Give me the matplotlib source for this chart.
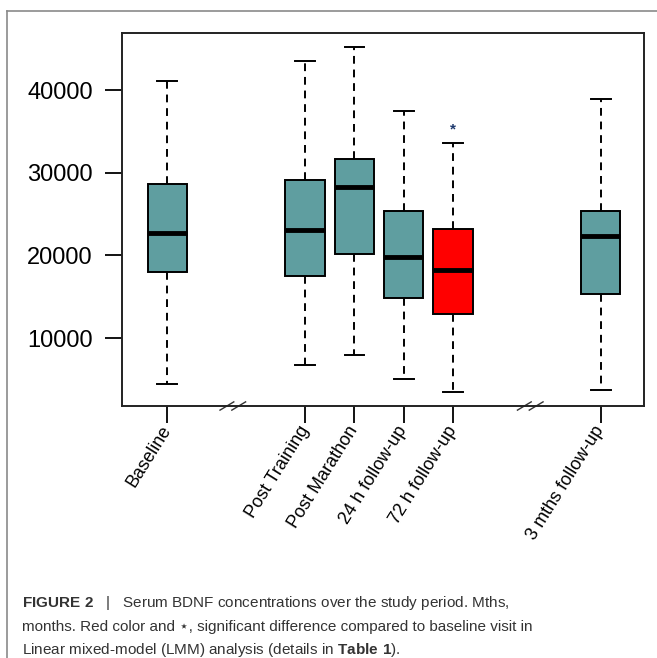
import matplotlib.pyplot as plt
from matplotlib.lines import Line2D

plt.rcParams['font.family'] = ['Liberation Sans', 'DejaVu Sans']
plt.rcParams['mathtext.fontset'] = 'custom'
plt.rcParams['mathtext.bf'] = 'Liberation Sans:bold'
plt.rcParams['mathtext.rm'] = 'Liberation Sans'

labels = ["Baseline", "Post Training", "Post Marathon", "24 h follow-up",
          "72 h follow-up", "3 mths follow-up"]
positions = [1, 3.8, 4.8, 5.8, 6.8, 9.8]
whis_lo = [4450, 6740, 7980, 5120, 3510, 3710]
q1 = [18060, 17460, 20200, 14840, 12980, 15360]
med = [22740, 23100, 28310, 19840, 18230, 22380]
q3 = [28630, 29150, 31690, 25370, 23230, 25400]
whis_hi = [41050, 43550, 45160, 37460, 33630, 38870]
colors = ["#5F9EA0", "#5F9EA0", "#5F9EA0", "#5F9EA0", "#FF0000", "#5F9EA0"]
star_pos, star_val = 6.8, 35290
breaks = [2.33, 8.37]

fig = plt.figure(figsize=(6.57, 6.58), dpi=100)
ax = fig.add_axes([122 / 657, 1 - 406 / 658, 522 / 657, 373 / 658])

stats = []
for i in range(len(labels)):
    stats.append(dict(med=med[i], q1=q1[i], q3=q3[i], whislo=whis_lo[i],
                      whishi=whis_hi[i], fliers=[], label=labels[i]))

bp = ax.bxp(stats, positions=positions, widths=0.8, patch_artist=True,
            showfliers=False,
            boxprops=dict(edgecolor="black", linewidth=1.4),
            medianprops=dict(color="black", linewidth=3.5),
            whiskerprops=dict(color="black", linewidth=1.4, linestyle=(0, (4, 3))),
            capprops=dict(color="black", linewidth=1.4),
            capwidths=0.4)
for patch, c in zip(bp["boxes"], colors):
    patch.set_facecolor(c)

ax.text(star_pos, star_val, "*", ha="center", va="center", fontsize=11,
        color="#1f3a6e", fontweight="bold")

ax.set_xlim(0.08, 10.68)
ax.set_ylim(1800, 46900)
ax.set_yticks([10000, 20000, 30000, 40000])
ax.set_yticklabels(["10000", "20000", "30000", "40000"])
ax.tick_params(axis="y", length=12, width=1.3, pad=9, labelsize=17)
ax.tick_params(axis="x", length=12, width=1.3, pad=2)
ax.set_xticks(positions)
ax.set_xticklabels(labels, rotation=58, ha="right", va="center",
                   rotation_mode="anchor", fontsize=13)
for lab in ax.get_xticklabels():
    lab.set_y(-0.005)
for s in ax.spines.values():
    s.set_linewidth(1.4)
    s.set_color("#222222")

# axis break marks
for b in breaks:
    for dx in (-0.12, 0.12):
        ax.plot([b + dx - 0.14, b + dx + 0.14], [1800 - 500, 1800 + 500],
                color="#333333", lw=1.0, clip_on=False)

# outer figure frame
fig.add_artist(Line2D([7 / 657, 1], [1 - 11 / 658, 1 - 11 / 658],
                      color="#8a8a8a", lw=1.2))
fig.add_artist(Line2D([7 / 657, 7 / 657], [0, 1 - 11 / 658],
                      color="#8a8a8a", lw=1.2))

cap = [
    (r"$\bf{FIGURE\ 2}$   |   Serum BDNF concentrations over the study period. Mths,", 603),
    ("months. Red color and \u22c6, significant difference compared to baseline visit in", 627),
    (r"Linear mixed-model (LMM) analysis (details in $\bf{Table\ 1}$).", 650),
]
for txt, y in cap:
    fig.text(22 / 657, 1 - y / 658, txt, ha="left", va="center", fontsize=11,
             color="#333333")

fig.savefig("out.png", dpi=100)
